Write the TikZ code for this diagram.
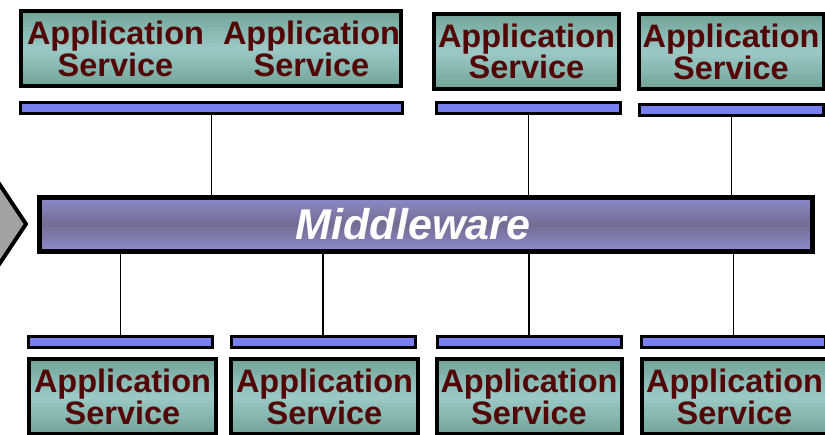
\documentclass[tikz,border=0pt]{standalone}
\usepackage{fontspec}
\setmainfont{Liberation Sans}
\usetikzlibrary{calc}
\definecolor{tealdark}{HTML}{72A59A}
\definecolor{teallight}{HTML}{9CCAC8}
\definecolor{servtext}{HTML}{520606}
\definecolor{barblue}{HTML}{7880F0}
\definecolor{mwlight}{HTML}{8A8ACA}
\definecolor{mwdark}{HTML}{756C92}
\definecolor{chevgray}{HTML}{A2A2A2}
\begin{document}
\begin{tikzpicture}[x=1pt, y=-1pt]

      \tikzset{stripes/.style 2 args={path picture={
                 \foreach \k in {0,...,23}{
                   \pgfmathtruncatemacro\p{abs(\k-11.5)/11.5*100}
                   \pgfmathsetmacro\q{(\k+1.1)/24}
                   \fill[#1!\p!#2] ($(path picture bounding box.north west)!\k/24!(path picture bounding box.south west)$)
                     rectangle ($(path picture bounding box.north east)!\q!(path picture bounding box.south east)$);}}},
               appbox/.style={draw, line width=4pt, inner sep=0pt, minimum height=75pt, stripes={tealdark}{teallight}},
               apptext/.style={inner sep=0pt, align=center, text=servtext, font=\fontsize{32.5}{28.5}\selectfont\bfseries},
               busbar/.style={draw, line width=3pt, fill=barblue, inner sep=0pt, minimum width=184pt, minimum height=11pt},
               link/.style={line width=1.3pt}}
      \useasboundingbox (0,0) rectangle (825,435);
%% Arrow
      	\draw[line width=4pt, fill=chevgray] (-10,170) -- (26,224) -- (-10,278) -- cycle;
%% Middleware
      	\node[draw, line width=5pt, inner sep=0pt, minimum width=773pt, minimum height=54pt, stripes={mwlight}{mwdark}] (mw) at (426,224.5) {};
      	\node[inner sep=0pt, text=white, font=\fontsize{43}{43}\selectfont\bfseries\itshape] (mwlabel) at (413,224.5) {Middleware};
%% Top services
      	\node[appbox, minimum width=380pt] (top1) at (211,49) {};
      	\node[apptext] (s1) at (115.5,49) {Application\\Service};
      	\node[apptext] (s2) at (311.5,49) {Application\\Service};
      	\node[appbox, minimum width=185pt] (top2) at (526.5,51.5) {};
      	\node[apptext] (s3) at (top2) {Application\\Service};
      	\node[appbox, minimum width=185pt] (top3) at (731,52) {};
      	\node[apptext] (s4) at (top3) {Application\\Service};
%% Bottom services
      	\node[appbox, minimum width=187pt] (bot1) at (122.5,397) {};
      	\node[apptext] (s5) at (bot1) {Application\\Service};
      	\node[appbox, minimum width=187pt] (bot2) at (324.5,397) {};
      	\node[apptext] (s6) at (bot2) {Application\\Service};
      	\node[appbox, minimum width=185pt] (bot3) at (529,397) {};
      	\node[apptext] (s7) at (bot3) {Application\\Service};
      	\node[appbox, minimum width=185pt] (bot4) at (734.5,397) {};
      	\node[apptext] (s8) at (bot4) {Application\\Service};
%% Bars
      	\node[busbar, minimum width=382pt] (tb1) at (211.5,108) {};
      	\node[busbar] (tb2) at (528.5,108) {};
      	\node[busbar] (tb3) at (731.5,110) {};
      	\node[busbar] (bb1) at (120.5,342) {};
      	\node[busbar] (bb2) at (323,342) {};
      	\node[busbar] (bb3) at (529,342) {};
      	\node[busbar] (bb4) at (733.5,342) {};
%Edges
		\path [link] (tb1.south) edge (tb1.south |- mw.north);
		\path [link] (tb2.south) edge (tb2.south |- mw.north);
		\path [link] (tb3.south) edge (tb3.south |- mw.north);
		\path [link] (bb1.north) edge (bb1.north |- mw.south);
		\path [link] (bb2.north) edge (bb2.north |- mw.south);
		\path [link] (bb3.north) edge (bb3.north |- mw.south);
		\path [link] (bb4.north) edge (bb4.north |- mw.south);

	\end{tikzpicture}
\end{document}
